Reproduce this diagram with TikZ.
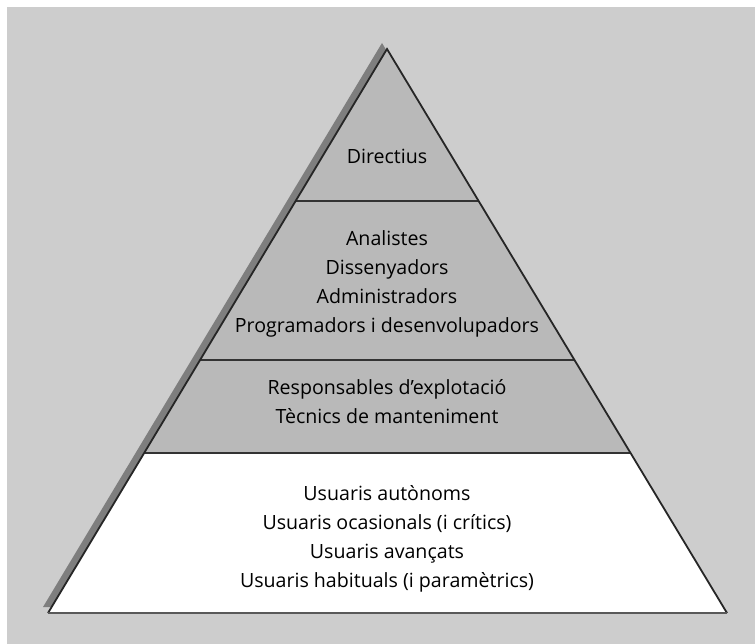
\documentclass[tikz,border=0pt]{standalone}
\usepackage{fontspec}
\setmainfont{Open Sans}
\usetikzlibrary{calc}
\definecolor{pagegray}{HTML}{CDCDCD}
\definecolor{bandgray}{HTML}{B9B9B9}
\definecolor{shadowgray}{HTML}{7E7E7E}
\tikzset{
  lbl/.style={anchor=base, inner sep=0pt, font=\fontsize{19.6}{23}\selectfont, text=black},
  edge/.style={line width=1.8pt, black!85, line join=miter},
  divider/.style={line width=1.4pt, black!80},
}
\begin{document}
\begin{tikzpicture}[x=1pt, y=-1pt]
  \useasboundingbox (0,0) rectangle (755,644);
  \fill[white] (0,0) rectangle (755,644);
  \fill[pagegray] (7,7) rectangle (755,644);

  % pyramid corners
  \coordinate (A) at (387,49);
  \coordinate (B) at (48,613);
  \coordinate (C) at (727,613);

  % level boundaries on both sides
  \coordinate (L1) at ($(A)!0.2695!(B)$);
  \coordinate (R1) at ($(A)!0.2695!(C)$);
  \coordinate (L2) at ($(A)!0.5514!(B)$);
  \coordinate (R2) at ($(A)!0.5514!(C)$);
  \coordinate (L3) at ($(A)!0.7163!(B)$);
  \coordinate (R3) at ($(A)!0.7163!(C)$);

  % drop shadow
  \fill[shadowgray] ([shift={(-5,-6)}]A) -- ([shift={(-5,-6)}]B) -- ([shift={(-5,-6)}]C) -- cycle;

  % levels
  \fill[bandgray] (A) -- (L3) -- (R3) -- cycle;
  \fill[white] (L3) -- (B) -- (C) -- (R3) -- cycle;

  % dividers
  \draw[divider] (L1) -- (R1);
  \draw[divider] (L2) -- (R2);
  \draw[divider] (L3) -- (R3);

  % outline
  \draw[edge] (C) -- (A) -- (B);
  \draw[line width=2.6pt, black!65] (B) -- (C);

  % labels
  \node[lbl] (dir) at (387,164) {Directius};

  \node[lbl] (ana) at (387,246) {Analistes};
  \node[lbl] (dis) at (387,275) {Dissenyadors};
  \node[lbl] (adm) at (387,304) {Administradors};
  \node[lbl] (pro) at (387,333) {Programadors i desenvolupadors};

  \node[lbl] (res) at (387,394) {Responsables d’explotació};
  \node[lbl] (tec) at (387,423) {Tècnics de manteniment};

  \node[lbl] (aut) at (387,500) {Usuaris autònoms};
  \node[lbl] (oca) at (387,529) {Usuaris ocasionals (i crítics)};
  \node[lbl] (ava) at (387,558) {Usuaris avançats};
  \node[lbl] (hab) at (387,587) {Usuaris habituals (i paramètrics)};
\end{tikzpicture}
\end{document}
